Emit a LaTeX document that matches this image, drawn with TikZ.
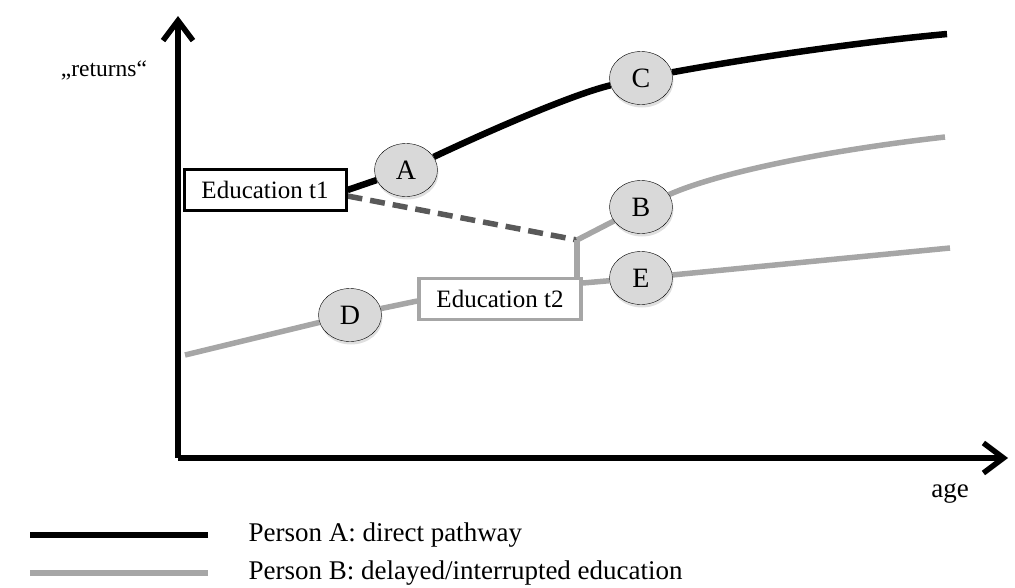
\documentclass[tikz,border=0pt]{standalone}
\usepackage{fontspec}
\setmainfont{Liberation Serif}
\usepackage{tikz}
\usetikzlibrary{positioning,arrows.meta,shapes.geometric,shadows,backgrounds}
\definecolor{paleline}{RGB}{166,166,166}
\definecolor{darkdash}{RGB}{89,89,89}
\definecolor{stagefill}{RGB}{217,217,217}
\tikzset{
  axisarrow/.style={-{Straight Barb[length=20pt, width=30pt]}, line width=5.5pt},
  pathA/.style={line width=6.5pt, black},
  pathB/.style={line width=5.5pt, paleline},
  gapline/.style={line width=5.5pt, darkdash, dash pattern=on 15pt off 8pt},
  stage/.style={ellipse, draw, thin, fill=stagefill, minimum width=63pt, minimum height=53pt, inner sep=0pt,
    font=\fontsize{28}{31}\selectfont,
    drop shadow={opacity=0.25, shadow xshift=1pt, shadow yshift=-3pt}},
  edubox/.style={draw, line width=3pt, fill=white, minimum width=162pt, minimum height=41pt, inner sep=0pt,
    font=\fontsize{25}{28}\selectfont},
  edubox2/.style={edubox, draw=paleline, line width=3.5pt},
  axislabel/.style={font=\fontsize{27}{31}\selectfont}
}

\begin{document}
\begin{tikzpicture}[x=1pt, y=-1pt, every node/.style={font=\fontsize{25}{28}\selectfont}]
      \useasboundingbox (0,0) rectangle (1015,587);
      % axes
      \coordinate (o) at (178,458);
      \draw[axisarrow] (o) -- (178,16) coordinate (ytip);
      \draw[axisarrow] (o) -- (1008,458) coordinate (xtip);
      \node[font=\fontsize{23.5}{27}\selectfont] (ret) at (104,70) {„returns“};
      \node[axislabel] (age) at (950,493) {age};
      % boxes and stages
      \node[edubox] (t1) at (265,190) {Education t1};
      \node[edubox2] (t2) at (500,299) {Education t2};
      \node[stage] (A) at (406,170) {A};
      \node[stage] (C) at (641,78) {C};
      \node[stage] (B) at (641,207) {B};
      \node[stage] (E) at (641,278) {E};
      \node[stage] (D) at (350,315) {D};
      \coordinate (J) at (577,240);
      \coordinate (endA) at (947,34);
      \coordinate (endB) at (945,137);
      \coordinate (endE) at (950,248);
      \coordinate (startD) at (185,355);
      \begin{scope}[on background layer]
        % person A
        \draw[pathA] (t1.east) -- (A);
        \draw[pathA] (A) .. controls (480,135) and (570,95) .. (C);
        \draw[pathA] (C) .. controls (750,58) and (860,42) .. (endA);
        % person B
        \draw[gapline] ([yshift=-6pt]t1.east) -- (J);
        \draw[pathB] (J) -- (B);
        \draw[pathB] (B) .. controls (720,172) and (830,150) .. (endB);
        \draw[pathB] (J) -- (J |- t2.north);
        \draw[pathB] (startD) -- (D) -- ([yshift=-2pt]t2.west);
        \draw[pathB] ([yshift=16pt]t2.east) -- (E) -- (endE);
      \end{scope}
      % legend
      \node[axislabel, anchor=west] (legA) at (245,535) {Person A: direct pathway};
      \node[axislabel, anchor=west] (legB) at (245,573) {Person B: delayed/interrupted education};
      \draw[pathA, line width=5.5pt] ([xshift=-37pt]legA.west) -- +(-178,0);
      \draw[pathB] ([xshift=-37pt]legB.west) -- +(-178,0);
    \end{tikzpicture}
\end{document}
